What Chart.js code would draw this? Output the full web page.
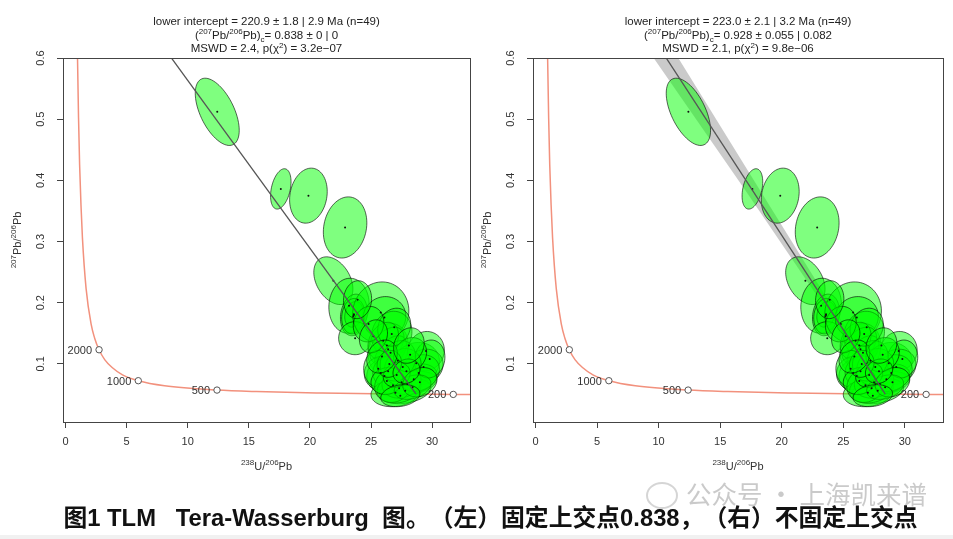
<!DOCTYPE html>
<html lang="zh">
<head>
<meta charset="UTF-8">
<title>Tera-Wasserburg 图</title>
<script src="https://cdn.jsdelivr.net/npm/chart.js@4.4.0/dist/chart.umd.min.js"></script>
<style>
  html, body { margin: 0; padding: 0; background: #fff; }
  body { width: 953px; height: 539px; position: relative; overflow: hidden; }
  #left { position: absolute; left: 0; top: 0; }
  #right { position: absolute; left: 470px; top: 0; }
  .caption { position: absolute; left: 0; width: 981px; top: 498px; text-align: center;
    font: bold 23.8px "Liberation Sans", "Noto Sans CJK SC", sans-serif; color: #111;
    white-space: pre; text-spacing-trim: space-all; }
  .mark { position: absolute; left: 686px; top: 474px; font: 25.5px "Noto Sans CJK SC", sans-serif;
    color: rgba(150, 150, 150, 0.5); white-space: pre; }
  .icon { position: absolute; left: 646px; top: 482px; width: 28px; height: 23px; border-radius: 50%;
    border: 2px solid rgba(150, 150, 150, 0.4); }
  .strip { position: absolute; left: 0; right: 0; bottom: 0; height: 4px; background: #f1f1f1; }
</style>
</head>
<body>
<canvas id="left" width="476" height="480"></canvas>
<canvas id="right" width="483" height="480"></canvas>
<div class="icon"></div>
<div class="mark">公众号 · 上海凯来谱</div>
<div class="caption">图1 TLM   Tera-Wasserburg  图。（左）固定上交点0.838，（右）不固定上交点</div>
<div class="strip"></div>

<script>
// 坐标刻度
const xTicks = [0, 5, 10, 15, 20, 25, 30];
const yTicks = [0.1, 0.2, 0.3, 0.4, 0.5, 0.6];

// 谐和曲线
const concX = [0.96, 0.99, 1.07, 1.16, 1.27, 1.39, 1.69, 2.11, 2.39, 2.75, 3.21, 3.82, 4.67,
  5.96, 8.11, 12.40, 15.62, 20.99, 25.29, 31.73, 33.50];
const concY = [0.640, 0.597, 0.503, 0.425, 0.360, 0.306, 0.223, 0.164, 0.142, 0.123, 0.107, 0.094, 0.082,
  0.0725, 0.0643, 0.0572, 0.0547, 0.0524, 0.0512, 0.0501, 0.0497];

// 年龄标记
const ageX = [2.75, 5.96, 12.40, 31.73];
const ageY = [0.1231, 0.0725, 0.0572, 0.0501];
const ageLabels = ['2000', '1000', '500', '200'];

// 误差椭圆: 中心, x/y 半宽, 相关系数
const ellX = [12.42, 17.62, 19.88, 22.88, 21.92, 23.2, 23.6, 23.6, 23.55, 23.7,
  25.8, 26.1, 26.4, 26.7, 26.3, 26.6, 26.0, 28.7, 29.5, 29.3,
  26.1, 25.8, 26.4, 25.6, 27.97, 27.8, 27.0, 27.3, 28.5, 27.5,
  26.8, 28.9, 29.8, 27.6, 27.2, 26.9, 24.8, 23.9, 25.2, 28.2,
  26.3, 28.4, 27.1, 29.0, 26.5, 27.9, 25.9, 28.1, 27.4];
const ellY = [0.512, 0.386, 0.375, 0.323, 0.236, 0.195, 0.180, 0.181, 0.178, 0.142,
  0.184, 0.176, 0.124, 0.149, 0.130, 0.118, 0.138, 0.101, 0.121, 0.095,
  0.080, 0.085, 0.088, 0.092, 0.067, 0.056, 0.053, 0.060, 0.075, 0.070,
  0.065, 0.085, 0.108, 0.095, 0.105, 0.160, 0.165, 0.205, 0.145, 0.115,
  0.072, 0.062, 0.082, 0.070, 0.100, 0.088, 0.112, 0.130, 0.048];
const ellSX = [1.80, 0.84, 1.54, 1.78, 1.60, 1.65, 1.10, 0.75, 0.95, 1.35,
  2.30, 1.75, 1.65, 1.65, 1.40, 1.30, 1.25, 1.90, 1.50, 1.60,
  1.45, 1.35, 1.25, 1.20, 2.40, 2.10, 2.00, 1.80, 1.90, 1.60,
  1.50, 1.70, 1.25, 1.50, 1.45, 1.35, 1.25, 1.15, 1.15, 1.35,
  1.30, 1.50, 1.10, 1.40, 1.00, 1.10, 1.25, 1.25, 1.60];
const ellSY = [0.055, 0.033, 0.045, 0.050, 0.039, 0.045, 0.034, 0.021, 0.029, 0.027,
  0.050, 0.034, 0.042, 0.037, 0.030, 0.028, 0.030, 0.034, 0.032, 0.029,
  0.028, 0.027, 0.025, 0.030, 0.021, 0.021, 0.023, 0.024, 0.025, 0.026,
  0.028, 0.030, 0.031, 0.030, 0.033, 0.031, 0.029, 0.031, 0.027, 0.028,
  0.022, 0.020, 0.020, 0.024, 0.022, 0.020, 0.027, 0.029, 0.018];
const ellRho = [-0.55, 0.35, 0.15, 0.15, -0.35, 0.05, 0.15, 0.2, 0.1, 0.0,
  0.05, 0.05, 0.15, 0.1, 0.45, 0.5, 0.3, 0.1, 0.05, 0.15,
  0.0, 0.05, 0.1, 0.0, 0.35, 0.25, 0.15, 0.2, 0.3, 0.15,
  0.1, 0.2, 0.1, 0.15, 0.2, 0.15, 0.1, 0.05, 0.2, 0.15,
  0.1, 0.3, 0.15, 0.2, 0.1, 0.15, 0.2, 0.15, 0.2];

// 等时线
const isoLeftX = [0, 28.69];
const isoLeftY = [0.838, 0.0506];
const isoRightX = [0, 28.41];
const isoRightY = [0.928, 0.0506];

// 右图误差带
const bandX = [10.1, 11.6, 18.2, 23.9, 28.8, 28.0, 23.25, 17.0, 9.6, 7.9];
const bandY = [0.65, 0.60, 0.385, 0.20, 0.0506, 0.0506, 0.20, 0.385, 0.60, 0.65];

// 标题
const titleLeft = [
  'lower intercept = 220.9 ± 1.8 | 2.9 Ma (n=49)',
  '(^{207}Pb/^{206}Pb)_{c}= 0.838 ± 0 | 0',
  'MSWD = 2.4, p(χ^{2}) = 3.2e−07'
];
const titleRight = [
  'lower intercept = 223.0 ± 2.1 | 3.2 Ma (n=49)',
  '(^{207}Pb/^{206}Pb)_{c}= 0.928 ± 0.055 | 0.082',
  'MSWD = 2.1, p(χ^{2}) = 9.8e−06'
];
const xTitle = '^{238}U/^{206}Pb';
const yTitle = '^{207}Pb/^{206}Pb';

const FONT = '"Liberation Sans", Arial, sans-serif';

function parseRich(s) {
  return s.split(/(\^\{[^}]*\}|_\{[^}]*\})/).filter(p => p).map(p => {
    if (p.startsWith('^{')) return { t: p.slice(2, -1), k: 'sup' };
    if (p.startsWith('_{')) return { t: p.slice(2, -1), k: 'sub' };
    return { t: p, k: '' };
  });
}

// 带上下标的文字, 以 (cx, cy) 为中心
function drawRich(ctx, s, cx, cy, size) {
  const parts = parseRich(s);
  const small = Math.round(size * 0.7);
  let w = 0;
  parts.forEach(p => {
    ctx.font = (p.k ? small : size) + 'px ' + FONT;
    p.w = ctx.measureText(p.t).width;
    w += p.w;
  });
  let x = cx - w / 2;
  const base = cy + size * 0.35;
  ctx.textAlign = 'left';
  ctx.textBaseline = 'alphabetic';
  parts.forEach(p => {
    ctx.font = (p.k ? small : size) + 'px ' + FONT;
    const dy = p.k === 'sup' ? -size * 0.42 : (p.k === 'sub' ? size * 0.25 : 0);
    ctx.fillText(p.t, x, base + dy);
    x += p.w;
  });
}

const ellipsePlugin = {
  id: 'ellipses',
  beforeDatasetDraw(chart, args) {
    if (chart.data.datasets[args.index].label !== 'isochron') return;
    const { ctx, chartArea: a } = chart;
    const sx = chart.scales.x, sy = chart.scales.y;
    ctx.save();
    ctx.beginPath();
    ctx.rect(a.left, a.top, a.right - a.left, a.bottom - a.top);
    ctx.clip();
    for (let i = 0; i < ellX.length; i++) {
      const rho = ellRho[i];
      const r = Math.sqrt(1 - rho * rho);
      ctx.beginPath();
      for (let k = 0; k <= 72; k++) {
        const t = k / 72 * Math.PI * 2;
        const px = sx.getPixelForValue(ellX[i] + ellSX[i] * Math.cos(t));
        const py = sy.getPixelForValue(ellY[i] + ellSY[i] * (rho * Math.cos(t) + r * Math.sin(t)));
        if (k === 0) ctx.moveTo(px, py); else ctx.lineTo(px, py);
      }
      ctx.closePath();
      ctx.fillStyle = 'rgba(0,255,0,0.5)';
      ctx.fill();
      ctx.strokeStyle = 'rgba(0,0,0,0.6)';
      ctx.lineWidth = 1;
      ctx.stroke();
    }
    ctx.fillStyle = '#111';
    for (let i = 0; i < ellX.length; i++) {
      ctx.beginPath();
      ctx.arc(sx.getPixelForValue(ellX[i]), sy.getPixelForValue(ellY[i]), 1, 0, Math.PI * 2);
      ctx.fill();
    }
    ctx.restore();
  }
};

const framePlugin = {
  id: 'frame',
  afterDraw(chart, args, opts) {
    const { ctx, chartArea: a } = chart;
    const sx = chart.scales.x, sy = chart.scales.y;
    ctx.save();
    ctx.strokeStyle = '#444';
    ctx.lineWidth = 1;
    ctx.strokeRect(Math.round(a.left) + 0.5, Math.round(a.top) + 0.5,
      Math.round(a.right - a.left), Math.round(a.bottom - a.top));
    // 年龄标签
    ctx.fillStyle = '#333';
    ctx.font = '11px ' + FONT;
    ctx.textAlign = 'right';
    ctx.textBaseline = 'middle';
    ageLabels.forEach((t, i) => {
      ctx.fillText(t, sx.getPixelForValue(ageX[i]) - 7, sy.getPixelForValue(ageY[i]) + 1);
    });
    // 标题
    ctx.fillStyle = '#222';
    const cx = (a.left + a.right) / 2;
    opts.lines.forEach((s, i) => drawRich(ctx, s, cx, 21 + i * 13.7, 11.5));
    // 轴标题
    ctx.fillStyle = '#333';
    drawRich(ctx, xTitle, cx, 466, 11);
    ctx.translate(17, (a.top + a.bottom) / 2);
    ctx.rotate(-Math.PI / 2);
    drawRich(ctx, yTitle, 0, 0, 11);
    ctx.restore();
  }
};

function pts(xs, ys) { return xs.map((v, i) => ({ x: v, y: ys[i] })); }

function makeChart(id, isoX, isoY, lines, padRight, withBand) {
  const datasets = [
    { label: 'ages', data: pts(ageX, ageY), showLine: false, pointRadius: 3.2,
      pointBackgroundColor: '#fff', pointBorderColor: '#555', pointBorderWidth: 1, order: 0 },
    { label: 'isochron', data: pts(isoX, isoY), showLine: true, pointRadius: 0,
      borderColor: '#555', borderWidth: 1.3, order: 1 },
    { label: 'concordia', data: pts(concX, concY), showLine: true, pointRadius: 0,
      borderColor: 'rgb(242,145,125)', borderWidth: 1.5, cubicInterpolationMode: 'monotone', order: 3 }
  ];
  if (withBand) {
    datasets.push({ label: 'band', data: pts(bandX, bandY), showLine: true, pointRadius: 0,
      borderWidth: 0, borderColor: 'rgba(0,0,0,0)', backgroundColor: 'rgba(150,150,150,0.5)',
      fill: 'shape', order: 2 });
  }
  return new Chart(document.getElementById(id), {
    type: 'scatter',
    data: { datasets },
    options: {
      responsive: false,
      animation: false,
      devicePixelRatio: 1,
      events: [],
      layout: { padding: { left: 0, right: padRight, top: 58, bottom: 0 } },
      plugins: { legend: { display: false }, tooltip: { enabled: false }, frame: { lines } },
      scales: {
        x: {
          type: 'linear', min: -0.2, max: 33.1,
          afterBuildTicks: s => { s.ticks = xTicks.map(v => ({ value: v })); },
          afterFit: s => { s.height = 58; },
          grid: { display: true, drawOnChartArea: false, drawTicks: true, tickLength: 6, color: '#444' },
          border: { display: true, color: '#444' },
          ticks: { color: '#333', font: { size: 11, family: FONT }, padding: 7, maxRotation: 0,
            autoSkip: false, callback: v => String(v) }
        },
        y: {
          type: 'linear', min: 0.005, max: 0.6,
          afterBuildTicks: s => { s.ticks = yTicks.map(v => ({ value: v })); },
          afterFit: s => { s.width = 63; },
          grid: { display: true, drawOnChartArea: false, drawTicks: true, tickLength: 6, color: '#444' },
          border: { display: true, color: '#444' },
          ticks: { color: '#333', font: { size: 11, family: FONT }, padding: 8, minRotation: 90,
            maxRotation: 90, crossAlign: 'center', autoSkip: false, callback: v => v.toFixed(1) }
        }
      }
    },
    plugins: [ellipsePlugin, framePlugin]
  });
}

makeChart('left', isoLeftX, isoLeftY, titleLeft, 6, false);
makeChart('right', isoRightX, isoRightY, titleRight, 10, true);
</script>
</body>
</html>
